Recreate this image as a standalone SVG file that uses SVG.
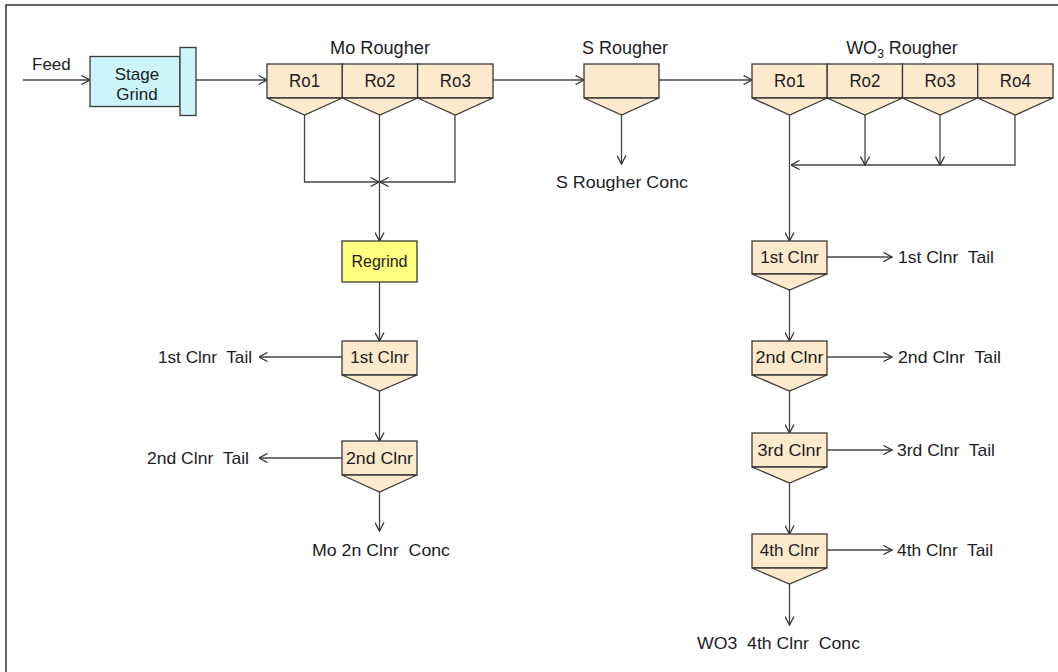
<svg xmlns="http://www.w3.org/2000/svg" width="1058" height="672" viewBox="0 0 1058 672">
  <style>
    text { font-family: "Liberation Sans", Arial, sans-serif; font-size: 17px; fill: #1c1c24; }
    .mid { text-anchor: middle; }
    .end { text-anchor: end; }
    .title { font-size: 18px; }
    .ro { font-size: 18.5px; }
    .cell { fill: #FDE9CB; stroke: #3a3a3a; stroke-width: 1.3; }
    .grind { fill: #CCF4FA; stroke: #3a3a3a; stroke-width: 1.3; }
    .regrind { fill: #FFFF80; stroke: #3a3a3a; stroke-width: 1.3; }
    .flow { fill: none; stroke: #444; stroke-width: 1.3; }
    .arr { marker-end: url(#head); }
  </style>
  <defs>
    <marker id="head" viewBox="0 0 10 10" refX="9.5" refY="5" markerWidth="10" markerHeight="10" orient="auto" markerUnits="userSpaceOnUse">
      <path d="M1,0.5 L9.5,5 L1,9.5" fill="none" stroke="#333" stroke-width="1.3"/>
    </marker>
  </defs>

  <rect width="1058" height="672" fill="#fff"/>
  <!-- outer frame (open to the right and bottom) -->
  <rect x="6" y="5" width="1070" height="690" fill="none" stroke="#222" stroke-width="1.4"/>

  <!-- connectors -->
  <g id="connectors">
    <line class="flow arr" x1="23" y1="80" x2="90" y2="80"/>
    <line class="flow arr" x1="196" y1="80" x2="267" y2="80"/>
    <line class="flow arr" x1="493" y1="80" x2="584" y2="80"/>
    <line class="flow arr" x1="659" y1="80" x2="752" y2="80"/>
    <!-- Mo rougher collection -->
    <polyline class="flow arr" points="304.5,115 304.5,182 379,182"/>
    <polyline class="flow arr" points="455,115 455,182 380,182"/>
    <line class="flow arr" x1="379.5" y1="115" x2="379.5" y2="241"/>
    <line class="flow arr" x1="379.5" y1="282" x2="379.5" y2="341"/>
    <line class="flow arr" x1="379.5" y1="391" x2="379.5" y2="441"/>
    <line class="flow arr" x1="379.5" y1="492" x2="379.5" y2="531"/>
    <line class="flow arr" x1="342" y1="357" x2="259" y2="357"/>
    <line class="flow arr" x1="342" y1="458" x2="259" y2="458"/>
    <!-- S rougher concentrate -->
    <line class="flow arr" x1="621.5" y1="115" x2="621.5" y2="164"/>
    <!-- WO3 rougher collection -->
    <polyline class="flow arr" points="1015,115 1015,165 791,165"/>
    <line class="flow arr" x1="865" y1="115" x2="865" y2="165"/>
    <line class="flow arr" x1="940" y1="115" x2="940" y2="165"/>
    <line class="flow arr" x1="789.5" y1="115" x2="789.5" y2="241"/>
    <line class="flow arr" x1="789.5" y1="290" x2="789.5" y2="341"/>
    <line class="flow arr" x1="789.5" y1="391" x2="789.5" y2="433"/>
    <line class="flow arr" x1="789.5" y1="483" x2="789.5" y2="534"/>
    <line class="flow arr" x1="789.5" y1="584" x2="789.5" y2="625"/>
    <line class="flow arr" x1="827" y1="257" x2="892" y2="257"/>
    <line class="flow arr" x1="827" y1="357" x2="892" y2="357"/>
    <line class="flow arr" x1="827" y1="450" x2="892" y2="450"/>
    <line class="flow arr" x1="827" y1="550" x2="892" y2="550"/>
  </g>

  <!-- feed and grinding -->
  <g id="feed">
    <text x="32" y="70">Feed</text>
  </g>
  <g id="stage-grind">
    <rect class="grind" x="90" y="56.5" width="90" height="50"/>
    <rect class="grind" x="180" y="47.5" width="16" height="68"/>
    <text class="mid" x="137" y="80">Stage</text>
    <text class="mid" x="137" y="100">Grind</text>
  </g>

  <!-- Mo rougher bank -->
  <g id="mo-rougher">
    <text class="mid title" x="380" y="54" textLength="100" lengthAdjust="spacingAndGlyphs">Mo Rougher</text>
    <g id="mo-ro1">
      <rect class="cell" x="267" y="64" width="75.3" height="34"/>
      <polygon class="cell" points="267,98 342.3,98 304.6,115"/>
      <text class="mid ro" x="304.6" y="87" textLength="31" lengthAdjust="spacingAndGlyphs">Ro1</text>
    </g>
    <g id="mo-ro2">
      <rect class="cell" x="342.3" y="64" width="75.3" height="34"/>
      <polygon class="cell" points="342.3,98 417.6,98 379.9,115"/>
      <text class="mid ro" x="379.9" y="87" textLength="31" lengthAdjust="spacingAndGlyphs">Ro2</text>
    </g>
    <g id="mo-ro3">
      <rect class="cell" x="417.6" y="64" width="75.4" height="34"/>
      <polygon class="cell" points="417.6,98 493,98 455.3,115"/>
      <text class="mid ro" x="455.3" y="87" textLength="31" lengthAdjust="spacingAndGlyphs">Ro3</text>
    </g>
  </g>

  <g id="regrind">
    <rect class="regrind" x="342" y="241" width="75" height="41"/>
    <text class="mid" x="379.5" y="267" style="font-size:16px">Regrind</text>
  </g>

  <g id="mo-clnr1">
    <rect class="cell" x="342" y="341" width="75" height="34"/>
    <polygon class="cell" points="342,375 417,375 379.5,391"/>
    <text class="mid" x="379.5" y="363">1st Clnr</text>
  </g>
  <g id="mo-clnr1-tail">
    <text class="end" x="252" y="363" xml:space="preserve" textLength="94" lengthAdjust="spacingAndGlyphs">1st Clnr  Tail</text>
  </g>

  <g id="mo-clnr2">
    <rect class="cell" x="342" y="441" width="75" height="34"/>
    <polygon class="cell" points="342,475 417,475 379.5,492"/>
    <text class="mid" x="379.5" y="464" textLength="67" lengthAdjust="spacingAndGlyphs">2nd Clnr</text>
  </g>
  <g id="mo-clnr2-tail">
    <text class="end" x="249" y="464" xml:space="preserve" textLength="102" lengthAdjust="spacingAndGlyphs">2nd Clnr  Tail</text>
  </g>
  <g id="mo-conc">
    <text class="mid" x="381" y="556" xml:space="preserve" textLength="138" lengthAdjust="spacingAndGlyphs">Mo 2n Clnr  Conc</text>
  </g>

  <!-- S rougher -->
  <g id="s-rougher">
    <text class="mid title" x="625" y="54">S Rougher</text>
    <rect class="cell" x="584" y="64" width="75" height="34"/>
    <polygon class="cell" points="584,98 659,98 621.5,115"/>
  </g>
  <g id="s-conc">
    <text class="mid" x="622" y="188" textLength="132" lengthAdjust="spacingAndGlyphs">S Rougher Conc</text>
  </g>

  <!-- WO3 rougher bank -->
  <g id="wo3-rougher">
    <text class="mid title" x="902" y="54">WO<tspan dy="4" style="font-size:12px">3</tspan><tspan dy="-4"> Rougher</tspan></text>
    <g id="wo3-ro1">
      <rect class="cell" x="752" y="64" width="75.2" height="34"/>
      <polygon class="cell" points="752,98 827.2,98 789.6,115"/>
      <text class="mid ro" x="789.6" y="87" textLength="31" lengthAdjust="spacingAndGlyphs">Ro1</text>
    </g>
    <g id="wo3-ro2">
      <rect class="cell" x="827.2" y="64" width="75.3" height="34"/>
      <polygon class="cell" points="827.2,98 902.5,98 864.9,115"/>
      <text class="mid ro" x="864.9" y="87" textLength="31" lengthAdjust="spacingAndGlyphs">Ro2</text>
    </g>
    <g id="wo3-ro3">
      <rect class="cell" x="902.5" y="64" width="75.2" height="34"/>
      <polygon class="cell" points="902.5,98 977.7,98 940.1,115"/>
      <text class="mid ro" x="940.1" y="87" textLength="31" lengthAdjust="spacingAndGlyphs">Ro3</text>
    </g>
    <g id="wo3-ro4">
      <rect class="cell" x="977.7" y="64" width="75.3" height="34"/>
      <polygon class="cell" points="977.7,98 1053,98 1015.3,115"/>
      <text class="mid ro" x="1015.3" y="87" textLength="31" lengthAdjust="spacingAndGlyphs">Ro4</text>
    </g>
  </g>

  <g id="wo3-clnr1">
    <rect class="cell" x="752" y="241" width="75" height="33"/>
    <polygon class="cell" points="752,274 827,274 789.5,290"/>
    <text class="mid" x="789.5" y="263">1st Clnr</text>
  </g>
  <g id="wo3-clnr1-tail"><text x="898" y="263" xml:space="preserve" textLength="96" lengthAdjust="spacingAndGlyphs">1st Clnr  Tail</text></g>

  <g id="wo3-clnr2">
    <rect class="cell" x="752" y="341" width="75" height="34"/>
    <polygon class="cell" points="752,375 827,375 789.5,391"/>
    <text class="mid" x="789.5" y="363" textLength="68" lengthAdjust="spacingAndGlyphs">2nd Clnr</text>
  </g>
  <g id="wo3-clnr2-tail"><text x="898" y="363" xml:space="preserve" textLength="103" lengthAdjust="spacingAndGlyphs">2nd Clnr  Tail</text></g>

  <g id="wo3-clnr3">
    <rect class="cell" x="752" y="433" width="75" height="34"/>
    <polygon class="cell" points="752,467 827,467 789.5,483"/>
    <text class="mid" x="789.5" y="456" textLength="64" lengthAdjust="spacingAndGlyphs">3rd Clnr</text>
  </g>
  <g id="wo3-clnr3-tail"><text x="897" y="456" xml:space="preserve" textLength="98" lengthAdjust="spacingAndGlyphs">3rd Clnr  Tail</text></g>

  <g id="wo3-clnr4">
    <rect class="cell" x="752" y="534" width="75" height="34"/>
    <polygon class="cell" points="752,568 827,568 789.5,584"/>
    <text class="mid" x="789.5" y="556">4th Clnr</text>
  </g>
  <g id="wo3-clnr4-tail"><text x="897" y="556" xml:space="preserve" textLength="96" lengthAdjust="spacingAndGlyphs">4th Clnr  Tail</text></g>

  <g id="wo3-conc">
    <text x="697" y="649" xml:space="preserve" textLength="163" lengthAdjust="spacingAndGlyphs">WO3  4th Clnr  Conc</text>
  </g>
</svg>
